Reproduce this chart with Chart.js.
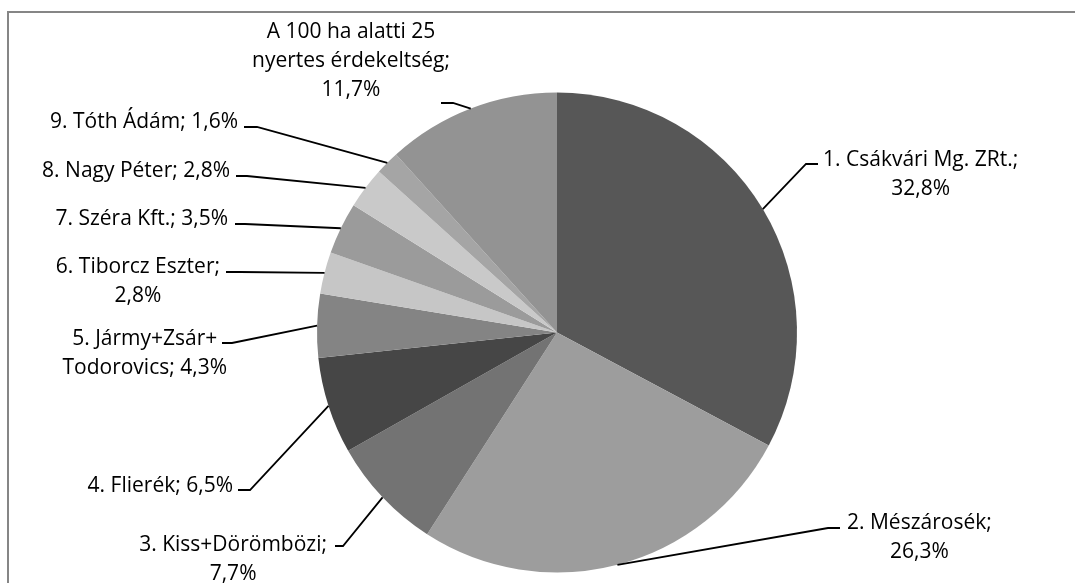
<!DOCTYPE html>
<html>
<head>
<meta charset="utf-8">
<script src="https://cdn.jsdelivr.net/npm/chart.js@4/dist/chart.umd.min.js"></script>
<style>
  html, body { margin: 0; padding: 0; background: #fff; overflow: hidden; }
  #wrap { width: 1075px; height: 583px; }
</style>
</head>
<body>
<div id="wrap"><canvas id="pie" width="1075" height="583"></canvas></div>
<script>
// Adatok
const categories = [
  '1. Csákvári Mg. ZRt.',
  '2. Mészárosék',
  '3. Kiss+Dörömbözi',
  '4. Flierék',
  '5. Jármy+Zsár+Todorovics',
  '6. Tiborcz Eszter',
  '7. Széra Kft.',
  '8. Nagy Péter',
  '9. Tóth Ádám',
  'A 100 ha alatti 25 nyertes érdekeltség'
];
const values = [32.8, 26.3, 7.7, 6.5, 4.3, 2.8, 3.5, 2.8, 1.6, 11.7];
const colors = ['#575757', '#9d9d9d', '#737373', '#464646', '#848484',
                '#c6c6c6', '#9b9b9b', '#c9c9c9', '#a5a5a5', '#939393'];

// Címkék elhelyezése: első sor alapvonala, vezetővonal töréspontja, szöveg széle
const labelLayout = [
  { lx: 823, y: 166, ly: 164, ex: 806, tx: 818, maxW: 230 },
  { lx: 847, y: 529, ly: 528, ex: 828, tx: 840, maxW: 180 },
  { rx: 327, y: 551, ly: 546, ex: 343, tx: 335, maxW: 220 },
  { rx: 233, y: 492, ly: 490, ex: 250, tx: 238, maxW: 300 },
  { rx: 227, y: 345, ly: 343, ex: 232, tx: 222, maxW: 185 },
  { rx: 220, y: 273, ly: 272, ex: 240, tx: 226, maxW: 190 },
  { rx: 228, y: 225, ly: 224, ex: 245, tx: 235, maxW: 300 },
  { rx: 230, y: 177, ly: 176, ex: 247, tx: 236, maxW: 300 },
  { rx: 238, y: 128, ly: 127, ex: 257, tx: 244, maxW: 300 },
  { cx: 351, y: 38, ly: 103, ex: 453, tx: 441, maxW: 215 }
];

const FONT = '21px "Open Sans", sans-serif';
const LINE_H = 29;

const fmt = v => v.toFixed(1).replace('.', ',') + '%';

// sortörés szóköz és '+' után
function wrap(ctx, text, maxW) {
  const tokens = text.match(/[^ +]+[ +]?|[ +]/g) || [text];
  const lines = [];
  let cur = '';
  tokens.forEach(t => {
    const test = cur + t;
    if (cur && ctx.measureText(test.trimEnd()).width > maxW) {
      lines.push(cur.trimEnd());
      cur = t;
    } else {
      cur = test;
    }
  });
  if (cur) lines.push(cur.trimEnd());
  return lines;
}

const framePlugin = {
  id: 'frame',
  beforeDraw(chart) {
    const ctx = chart.ctx;
    ctx.save();
    ctx.fillStyle = '#fff';
    ctx.fillRect(0, 0, chart.width, chart.height);
    ctx.strokeStyle = '#868686';
    ctx.lineWidth = 2;
    ctx.strokeRect(8, 12, 2000, 2000);
    ctx.restore();
  }
};

const labelPlugin = {
  id: 'pieLabels',
  afterDatasetsDraw(chart) {
    const ctx = chart.ctx;
    const meta = chart.getDatasetMeta(0);
    ctx.save();
    ctx.font = FONT;
    ctx.fillStyle = '#000';
    ctx.strokeStyle = '#000';
    ctx.lineWidth = 1.8;
    ctx.textAlign = 'center';
    ctx.textBaseline = 'alphabetic';
    meta.data.forEach((arc, i) => {
      const p = arc.getProps(['x', 'y', 'startAngle', 'endAngle', 'outerRadius'], true);
      const mid = (p.startAngle + p.endAngle) / 2;
      const ax = p.x + Math.cos(mid) * p.outerRadius;
      const ay = p.y + Math.sin(mid) * p.outerRadius;
      const L = labelLayout[i];

      ctx.beginPath();
      ctx.moveTo(ax, ay);
      ctx.lineTo(L.ex, L.ly);
      ctx.lineTo(L.tx, L.ly);
      ctx.stroke();

      const text = categories[i] + '; ' + fmt(values[i]);
      const lines = wrap(ctx, text, L.maxW);
      const w = Math.max(...lines.map(s => ctx.measureText(s).width));
      let cx;
      if (L.cx != null) cx = L.cx;
      else if (L.rx != null) cx = L.rx - w / 2;
      else cx = L.lx + w / 2;
      lines.forEach((s, k) => ctx.fillText(s, cx, L.y + k * LINE_H));
    });
    ctx.restore();
  }
};

new Chart(document.getElementById('pie').getContext('2d'), {
  type: 'pie',
  data: {
    labels: categories,
    datasets: [{
      data: values,
      backgroundColor: colors,
      borderWidth: 0
    }]
  },
  options: {
    responsive: false,
    animation: false,
    events: [],
    layout: { padding: { left: 317, right: 278, top: 92, bottom: 10 } },
    plugins: {
      legend: { display: false },
      tooltip: { enabled: false }
    }
  },
  plugins: [framePlugin, labelPlugin]
});
</script>
</body>
</html>
